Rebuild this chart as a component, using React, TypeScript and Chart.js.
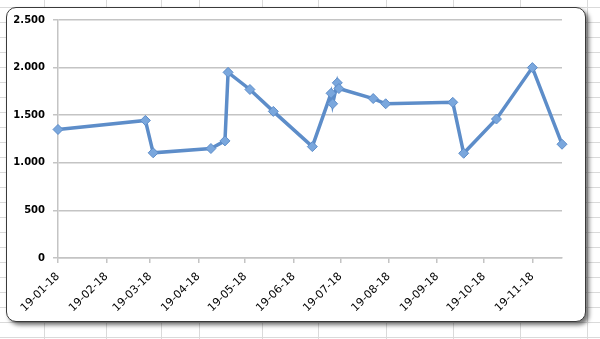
import React, { useEffect, useRef } from "react";
import { Chart, registerables } from "chart.js";

Chart.register(...registerables);

// Data (dates as YYYY-MM-DD, values)
const dates: string[] = [
  "2018-01-19", "2018-03-16", "2018-03-21", "2018-04-27", "2018-05-06",
  "2018-05-08", "2018-05-22", "2018-06-06", "2018-07-01", "2018-07-13",
  "2018-07-14", "2018-07-17", "2018-07-18", "2018-08-09", "2018-08-17",
  "2018-09-29", "2018-10-06", "2018-10-27", "2018-11-19", "2018-12-08",
];
const values: number[] = [
  1350, 1445, 1105, 1150, 1230,
  1950, 1770, 1540, 1170, 1730,
  1620, 1840, 1780, 1675, 1620,
  1635, 1100, 1460, 2000, 1195,
];
const tickDates: string[] = [
  "2018-01-19", "2018-02-19", "2018-03-19", "2018-04-19", "2018-05-19", "2018-06-19",
  "2018-07-19", "2018-08-19", "2018-09-19", "2018-10-19", "2018-11-19",
];
const yTicks: number[] = [0, 500, 1000, 1500, 2000, 2500];

const DAY = 86400000;
const toDay = (s: string) => {
  const [y, m, d] = s.split("-").map(Number);
  return Date.UTC(y, m - 1, d) / DAY;
};
const fmtDay = (v: number) => {
  const dt = new Date(v * DAY);
  const dd = String(dt.getUTCDate()).padStart(2, "0");
  const mm = String(dt.getUTCMonth() + 1).padStart(2, "0");
  const yy = String(dt.getUTCFullYear() % 100).padStart(2, "0");
  return `${dd}-${mm}-${yy}`;
};
const fmtNum = (v: number) => {
  const s = String(Math.round(v));
  return s.replace(/\B(?=(\d{3})+(?!\d))/g, ".");
};

const colLines = [44, 106, 161, 199, 262, 318, 386, 453, 520, 587];
const rowLines = Array.from({ length: 23 }, (_, i) => 7 + i * 15);

export default function App() {
  const ref = useRef<HTMLCanvasElement | null>(null);

  useEffect(() => {
    if (!ref.current) return;
    const pts = dates.map((d, i) => ({ x: toDay(d), y: values[i] }));
    const tickVals = tickDates.map(toDay);
    const gridColor = "#c4c4c4";
    const chart = new Chart(ref.current, {
      type: "line",
      data: {
        datasets: [
          {
            data: pts,
            borderColor: "#5d8dc9",
            borderWidth: 3.5,
            pointStyle: "rectRot",
            pointRadius: 5,
            pointBackgroundColor: "#7aa7dd",
            pointBorderColor: "#5d8dc9",
            pointBorderWidth: 1,
            tension: 0,
            clip: false,
          },
        ],
      },
      options: {
        responsive: false,
        animation: false,
        devicePixelRatio: 1,
        layout: { padding: { left: 0, right: 38, top: 20, bottom: 0 } },
        plugins: { legend: { display: false }, tooltip: { enabled: false } },
        scales: {
          x: {
            type: "linear",
            min: toDay(dates[0]),
            max: toDay(dates[dates.length - 1]),
            afterBuildTicks: (scale: any) => {
              scale.ticks = tickVals.map((v) => ({ value: v }));
            },
            afterFit: (scale: any) => {
              scale.height = 81;
            },
            grid: {
              drawOnChartArea: false,
              drawTicks: true,
              tickLength: 5,
              color: gridColor,
              lineWidth: 1.5,
            },
            border: { display: true, color: gridColor, width: 1.5 },
            ticks: {
              autoSkip: false,
              maxRotation: 45,
              minRotation: 45,
              padding: 7,
              color: "#000",
              font: { family: "DejaVu Sans", size: 11 },
              callback: (v: any) => fmtDay(Number(v)),
            },
          },
          y: {
            min: 0,
            max: 2500,
            afterBuildTicks: (scale: any) => {
              scale.ticks = yTicks.map((v) => ({ value: v }));
            },
            afterFit: (scale: any) => {
              scale.width = 58;
            },
            grid: {
              color: gridColor,
              lineWidth: 1.5,
              tickLength: 5,
            },
            border: { display: true, color: gridColor, width: 1.5 },
            ticks: {
              padding: 8,
              color: "#000",
              font: { family: "DejaVu Sans", size: 10, weight: "bold" },
              callback: (v: any) => fmtNum(Number(v)),
            },
          },
        },
      },
    } as any);
    return () => chart.destroy();
  }, []);

  return (
    <div
      style={{
        position: "fixed",
        left: 0,
        top: 0,
        width: 600,
        height: 339,
        overflow: "hidden",
        background: "#fff",
      }}
    >
      {rowLines.map((y) => (
        <div
          key={"r" + y}
          style={{ position: "absolute", left: 0, top: y, width: 600, height: 1, background: "#dadada" }}
        />
      ))}
      {colLines.map((x) => (
        <div
          key={"c" + x}
          style={{ position: "absolute", left: x, top: 0, width: 1, height: 339, background: "#dadada" }}
        />
      ))}
      <div
        style={{
          position: "absolute",
          left: 6,
          top: 7,
          width: 580,
          height: 315,
          boxSizing: "border-box",
          border: "1.5px solid #3a3a3a",
          borderRadius: 10,
          background: "#fff",
          boxShadow: "3px 3px 4px rgba(0,0,0,0.55)",
        }}
      />
      <canvas
        ref={ref}
        width={600}
        height={339}
        style={{ position: "absolute", left: 0, top: 0, width: 600, height: 339 }}
      />
    </div>
  );
}
